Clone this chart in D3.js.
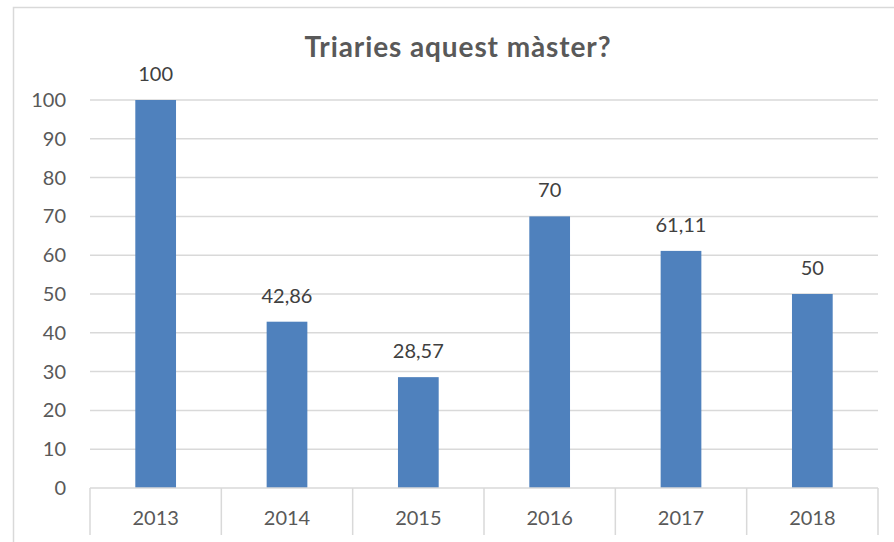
<!DOCTYPE html>
<html>
<head>
<meta charset="utf-8">
<script src="https://cdn.jsdelivr.net/npm/d3@7"></script>
<style>
  body { margin: 0; background: #fff; }
  text { font-family: Lato, "Open Sans", sans-serif; }
</style>
</head>
<body>
<svg id="chart" width="894" height="542"></svg>
<script>
// chart data
const years = ["2013", "2014", "2015", "2016", "2017", "2018"];
const values = [100, 42.86, 28.57, 70, 61.11, 50];
const labels = ["100", "42,86", "28,57", "70", "61,11", "50"];
const yTicks = [0, 10, 20, 30, 40, 50, 60, 70, 80, 90, 100];

const svg = d3.select("#chart");
const margin = {left: 90, right: 16, top: 100, bottom: 54};
const width = 894 - margin.left - margin.right;
const height = 542 - margin.top - margin.bottom;

// outer chart border
svg.append("rect")
    .attr("x", 13.5).attr("y", 7.5)
    .attr("width", 900).attr("height", 600)
    .style("fill", "none")
    .style("stroke", "#d9d9d9")
    .style("stroke-width", 1.5);

svg.append("text")
    .attr("x", 458).attr("y", 57)
    .attr("text-anchor", "middle")
    .style("font-size", "28px")
    .style("font-weight", "bold")
    .style("letter-spacing", "0.9px")
    .style("fill", "#595959")
    .text("Triaries aquest màster?");

const g = svg.append("g").attr("transform", `translate(${margin.left},${margin.top})`);

const xScale = d3.scaleBand().domain(years).range([0, width]).paddingInner(0.69).paddingOuter(0.345);
const xCat = d3.scaleBand().domain(years).range([0, width]);
const yScale = d3.scaleLinear().domain([0, 100]).range([height, 0]);

// gridlines
g.selectAll('.grid')
    .data(yTicks.filter(d => d > 0))
    .enter()
    .append('line')
    .attr('class', 'grid')
    .attr('x1', 0).attr('x2', width)
    .attr('y1', d => yScale(d)).attr('y2', d => yScale(d))
    .style('stroke', '#d9d9d9')
    .style('stroke-width', 1.5);

// y labels
const yAxis = g.append('g').call(d3.axisLeft(yScale).tickValues(yTicks).tickSize(0).tickPadding(24));
yAxis.select('.domain').remove();
yAxis.selectAll('text')
    .style('font-size', '20px')
    .style('fill', '#595959')
    .style('font-family', 'Lato, "Open Sans", sans-serif');

// bars
g.selectAll('.bar')
    .data(values)
    .enter()
    .append('rect')
    .attr('class', 'bar')
    .attr('x', (d, i) => xScale(years[i]))
    .attr('y', d => yScale(d))
    .attr('width', xScale.bandwidth())
    .attr('height', d => height - yScale(d))
    .style('fill', '#4f81bd');

// value labels
g.selectAll('.vlabel')
    .data(values)
    .enter()
    .append('text')
    .attr('class', 'vlabel')
    .attr('x', (d, i) => xScale(years[i]) + xScale.bandwidth() / 2)
    .attr('y', d => yScale(d) - 19)
    .attr('text-anchor', 'middle')
    .style('font-size', '20px')
    .style('fill', '#404040')
    .text((d, i) => labels[i]);

// x axis line and category dividers
g.append('line')
    .attr('x1', 0).attr('x2', width)
    .attr('y1', height).attr('y2', height)
    .style('stroke', '#d9d9d9').style('stroke-width', 1.5);

g.selectAll('.divider')
    .data(d3.range(years.length + 1))
    .enter()
    .append('line')
    .attr('class', 'divider')
    .attr('x1', i => i * xCat.step()).attr('x2', i => i * xCat.step())
    .attr('y1', height).attr('y2', height + 47)
    .style('stroke', '#d9d9d9').style('stroke-width', 1.5);

g.selectAll('.xlabel')
    .data(years)
    .enter()
    .append('text')
    .attr('class', 'xlabel')
    .attr('x', d => xCat(d) + xCat.bandwidth() / 2)
    .attr('y', height + 37)
    .attr('text-anchor', 'middle')
    .style('font-size', '20px')
    .style('fill', '#595959')
    .text(d => d);
</script>
</body>
</html>
